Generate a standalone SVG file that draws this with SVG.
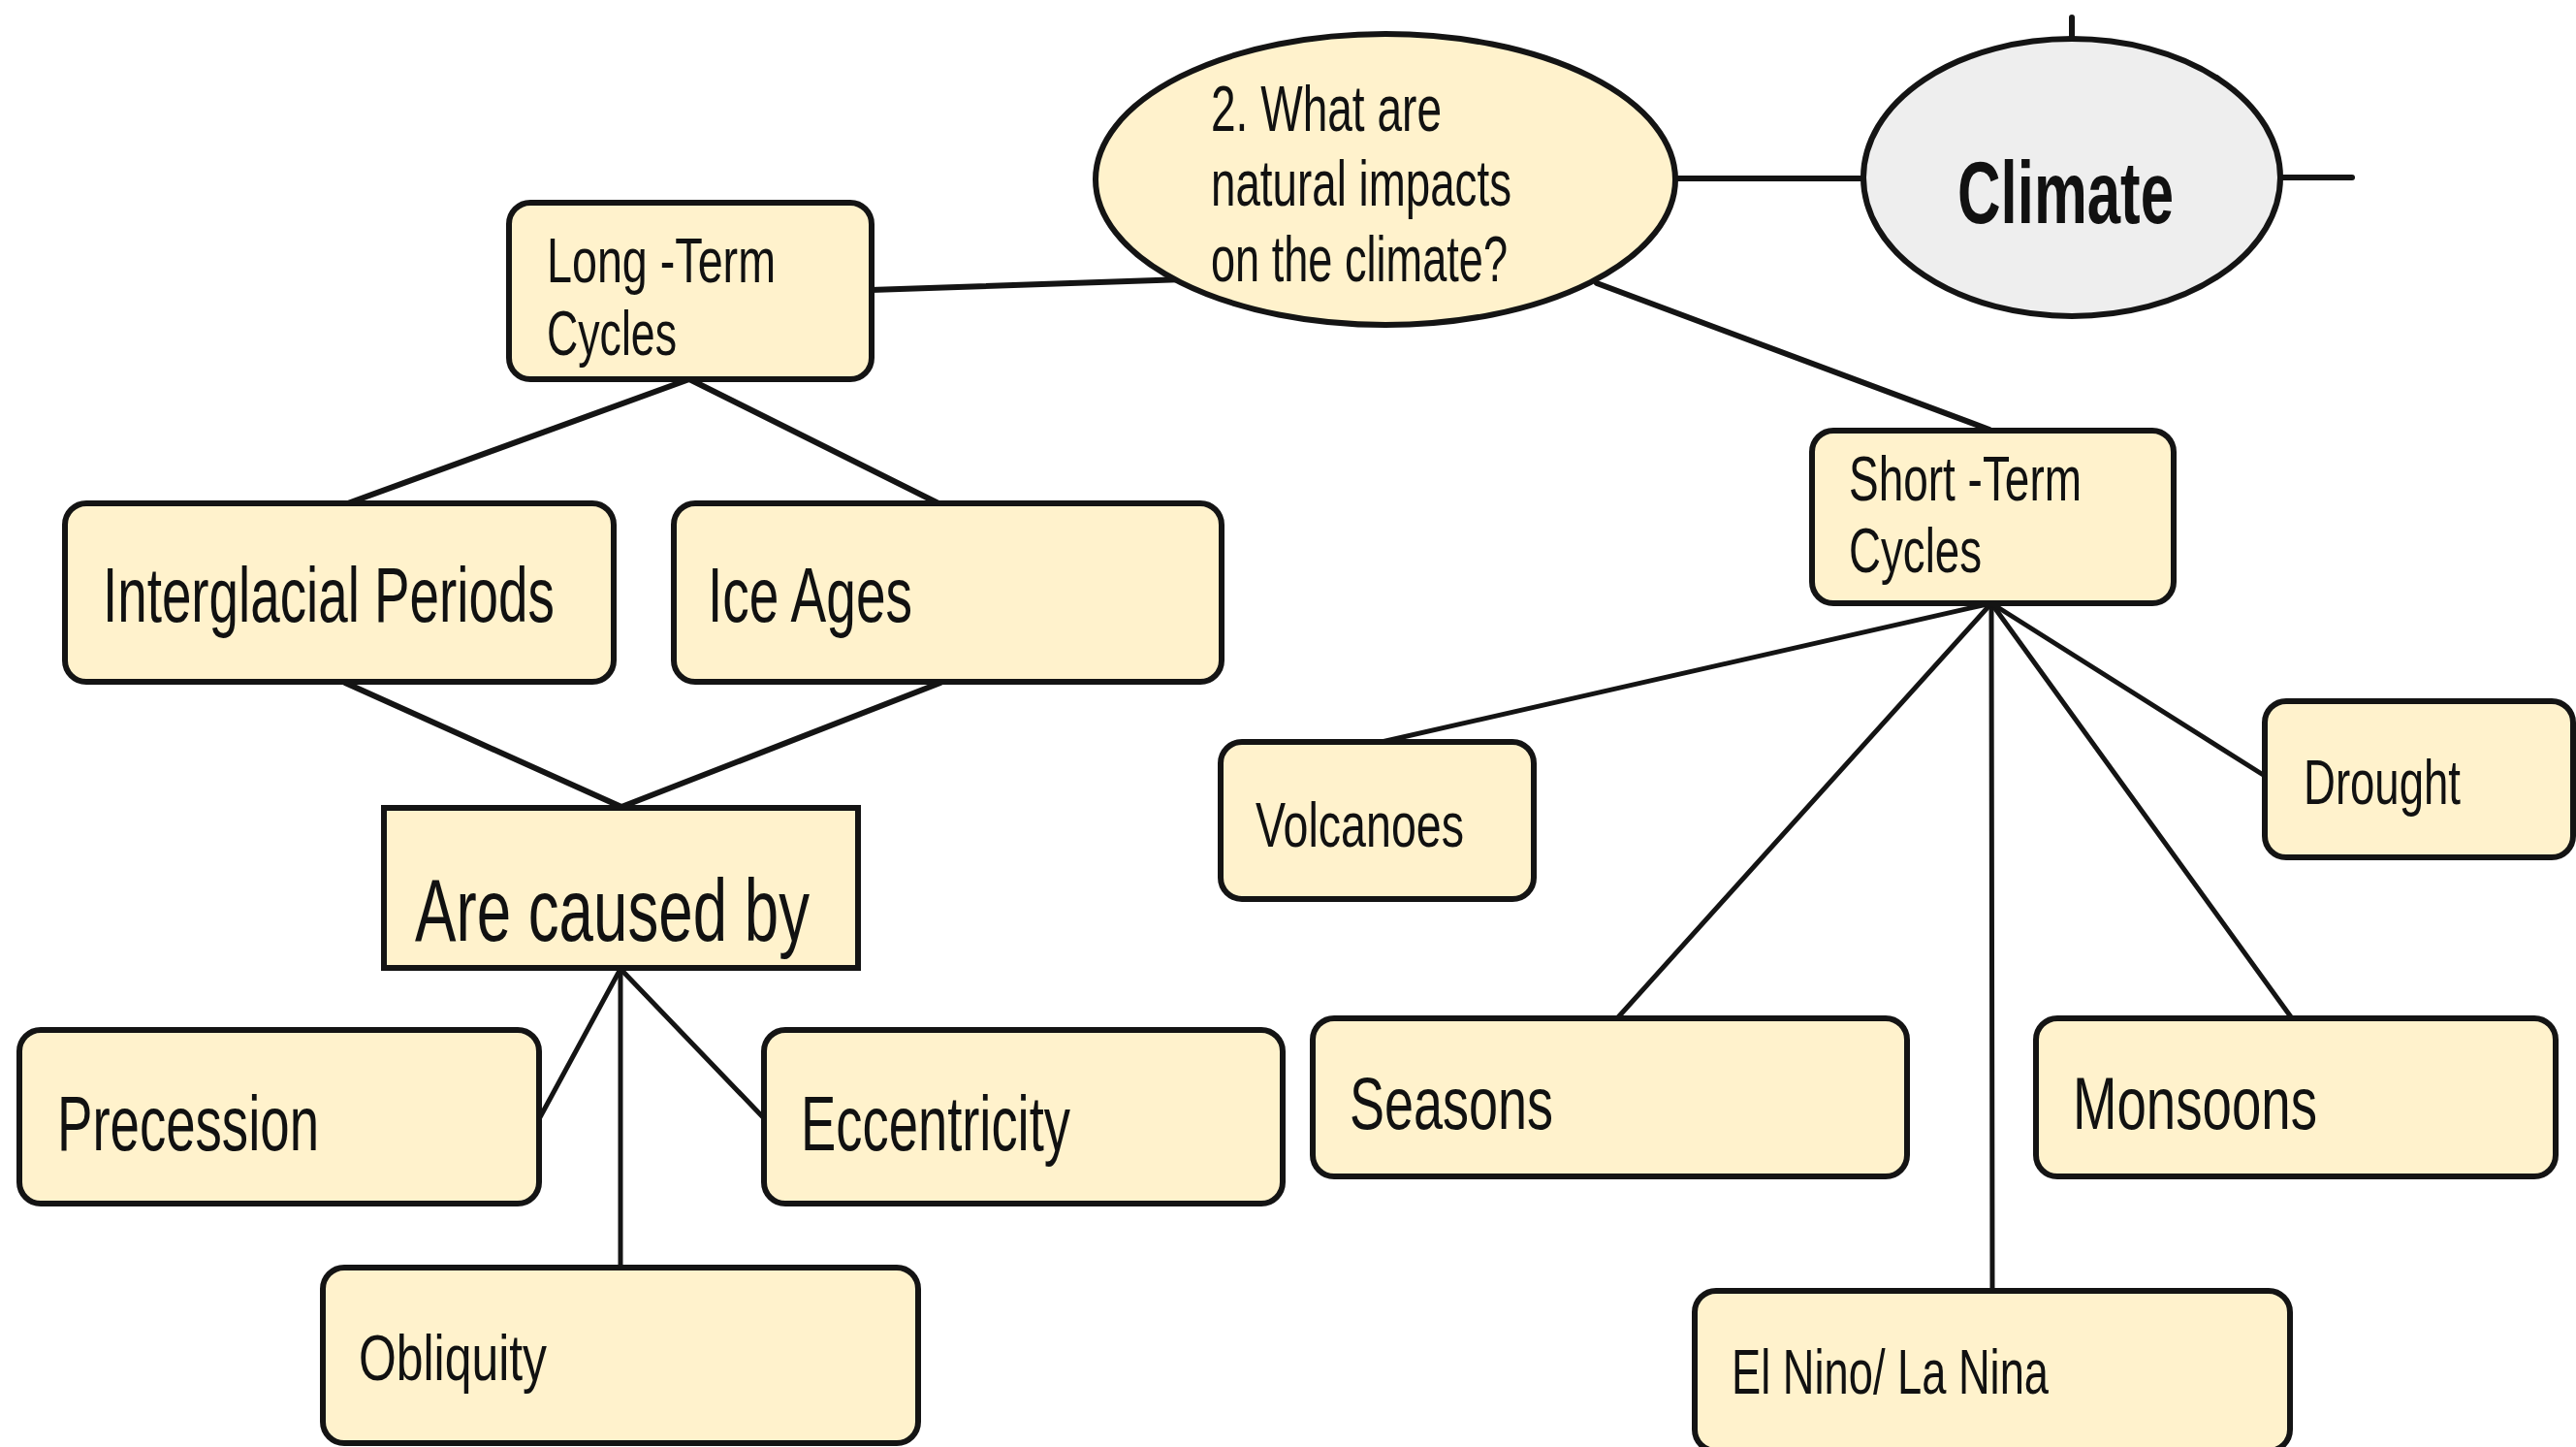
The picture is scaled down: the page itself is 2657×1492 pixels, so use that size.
<svg xmlns="http://www.w3.org/2000/svg" width="2657" height="1492" viewBox="0 0 2657 1492">
<style>
  .box { fill: #fff2cc; stroke: #141414; stroke-width: 6; }
  .sq { fill: #fff2cc; stroke: #141414; stroke-width: 6; }
  .ell { fill: #fff2cc; stroke: #141414; stroke-width: 6; }
  .clim { fill: #eeeeee; stroke: #141414; stroke-width: 6; }
  .t { font-family: "Liberation Sans", Arial, sans-serif; fill: #111111; }
  .conn line { stroke: #141414; stroke-width: 6; stroke-linecap: round; }
  .conn line.thin { stroke-width: 5; }
</style>
<rect width="2657" height="1492" fill="#ffffff"/>
<g id="connectors" class="conn">
  <line x1="2137" y1="18" x2="2137" y2="41"/>
  <line x1="2352" y1="183" x2="2426" y2="183"/>
  <line x1="1727" y1="184" x2="1920" y2="184"/>
  <line x1="898" y1="299" x2="1222" y2="288"/>
  <line x1="1647" y1="292" x2="2052" y2="443"/>
  <line x1="711" y1="391" x2="356" y2="520"/>
  <line x1="711" y1="391" x2="970" y2="520"/>
  <line x1="356" y1="704" x2="641" y2="832"/>
  <line x1="970" y1="704" x2="641" y2="832"/>
  <line class="thin" x1="640" y1="999" x2="557" y2="1152"/>
  <line class="thin" x1="640" y1="999" x2="787" y2="1152"/>
  <line class="thin" x1="640" y1="999" x2="640" y2="1307"/>
  <line class="thin" x1="2054" y1="622" x2="1425" y2="765"/>
  <line class="thin" x1="2054" y1="622" x2="1668" y2="1050"/>
  <line class="thin" x1="2054" y1="622" x2="2055" y2="1331"/>
  <line class="thin" x1="2054" y1="622" x2="2364" y2="1050"/>
  <line class="thin" x1="2054" y1="622" x2="2336" y2="800"/>
</g>
<g id="node-question">
  <ellipse class="ell" cx="1429" cy="185" rx="299" ry="150"/>
  <text class="t" x="1249" y="135" font-size="66" textLength="238" lengthAdjust="spacingAndGlyphs">2. What are</text>
  <text class="t" x="1249" y="212" font-size="66" textLength="310" lengthAdjust="spacingAndGlyphs">natural impacts</text>
  <text class="t" x="1249" y="290" font-size="66" textLength="306" lengthAdjust="spacingAndGlyphs">on the climate?</text>
</g>
<g id="node-climate">
  <ellipse class="clim" cx="2137" cy="183" rx="215" ry="143"/>
  <text class="t" x="2019" y="230" font-size="90" font-weight="bold" textLength="223" lengthAdjust="spacingAndGlyphs">Climate</text>
</g>
<g id="node-long-term">
  <rect class="box" x="525" y="209" width="374" height="182" rx="22"/>
  <text class="t" x="564" y="291" font-size="64" textLength="236" lengthAdjust="spacingAndGlyphs">Long -Term</text>
  <text class="t" x="564" y="366" font-size="64" textLength="134" lengthAdjust="spacingAndGlyphs">Cycles</text>
</g>
<g id="node-interglacial">
  <rect class="box" x="67" y="519" width="566" height="184" rx="22"/>
  <text class="t" transform="translate(106,641) scale(0.685,1)" x="0" y="0" font-size="80" textLength="680" lengthAdjust="spacingAndGlyphs">Interglacial Periods</text>
</g>
<g id="node-ice-ages">
  <rect class="box" x="695" y="519" width="565" height="184" rx="22"/>
  <text class="t" x="730" y="641" font-size="80" textLength="211" lengthAdjust="spacingAndGlyphs">Ice Ages</text>
</g>
<g id="node-caused-by">
  <rect class="sq" x="396" y="833" width="489" height="165"/>
  <text class="t" x="428" y="970" font-size="90" textLength="407" lengthAdjust="spacingAndGlyphs">Are caused by</text>
</g>
<g id="node-precession">
  <rect class="box" x="20" y="1062" width="536" height="179" rx="22"/>
  <text class="t" x="59" y="1186" font-size="80" textLength="270" lengthAdjust="spacingAndGlyphs">Precession</text>
</g>
<g id="node-eccentricity">
  <rect class="box" x="788" y="1062" width="535" height="179" rx="22"/>
  <text class="t" x="826" y="1186" font-size="80" textLength="278" lengthAdjust="spacingAndGlyphs">Eccentricity</text>
</g>
<g id="node-obliquity">
  <rect class="box" x="333" y="1307" width="614" height="181" rx="22"/>
  <text class="t" x="370" y="1423" font-size="66" textLength="194" lengthAdjust="spacingAndGlyphs">Obliquity</text>
</g>
<g id="node-short-term">
  <rect class="box" x="1869" y="444" width="373" height="178" rx="22"/>
  <text class="t" x="1907" y="516" font-size="64" textLength="240" lengthAdjust="spacingAndGlyphs">Short -Term</text>
  <text class="t" x="1907" y="590" font-size="64" textLength="137" lengthAdjust="spacingAndGlyphs">Cycles</text>
</g>
<g id="node-volcanoes">
  <rect class="box" x="1259" y="765" width="323" height="162" rx="22"/>
  <text class="t" x="1295" y="873" font-size="64" textLength="215" lengthAdjust="spacingAndGlyphs">Volcanoes</text>
</g>
<g id="node-drought">
  <rect class="box" x="2336" y="723" width="318" height="161" rx="22"/>
  <text class="t" x="2376" y="829" font-size="64" textLength="162" lengthAdjust="spacingAndGlyphs">Drought</text>
</g>
<g id="node-seasons">
  <rect class="box" x="1354" y="1050" width="613" height="163" rx="22"/>
  <text class="t" x="1392" y="1164" font-size="76" textLength="210" lengthAdjust="spacingAndGlyphs">Seasons</text>
</g>
<g id="node-monsoons">
  <rect class="box" x="2100" y="1050" width="536" height="163" rx="22"/>
  <text class="t" x="2138" y="1164" font-size="76" textLength="252" lengthAdjust="spacingAndGlyphs">Monsoons</text>
</g>
<g id="node-el-nino">
  <rect class="box" x="1748" y="1331" width="614" height="165" rx="22"/>
  <text class="t" x="1786" y="1437" font-size="64" textLength="327" lengthAdjust="spacingAndGlyphs">El Nino/ La Nina</text>
</g>
</svg>
